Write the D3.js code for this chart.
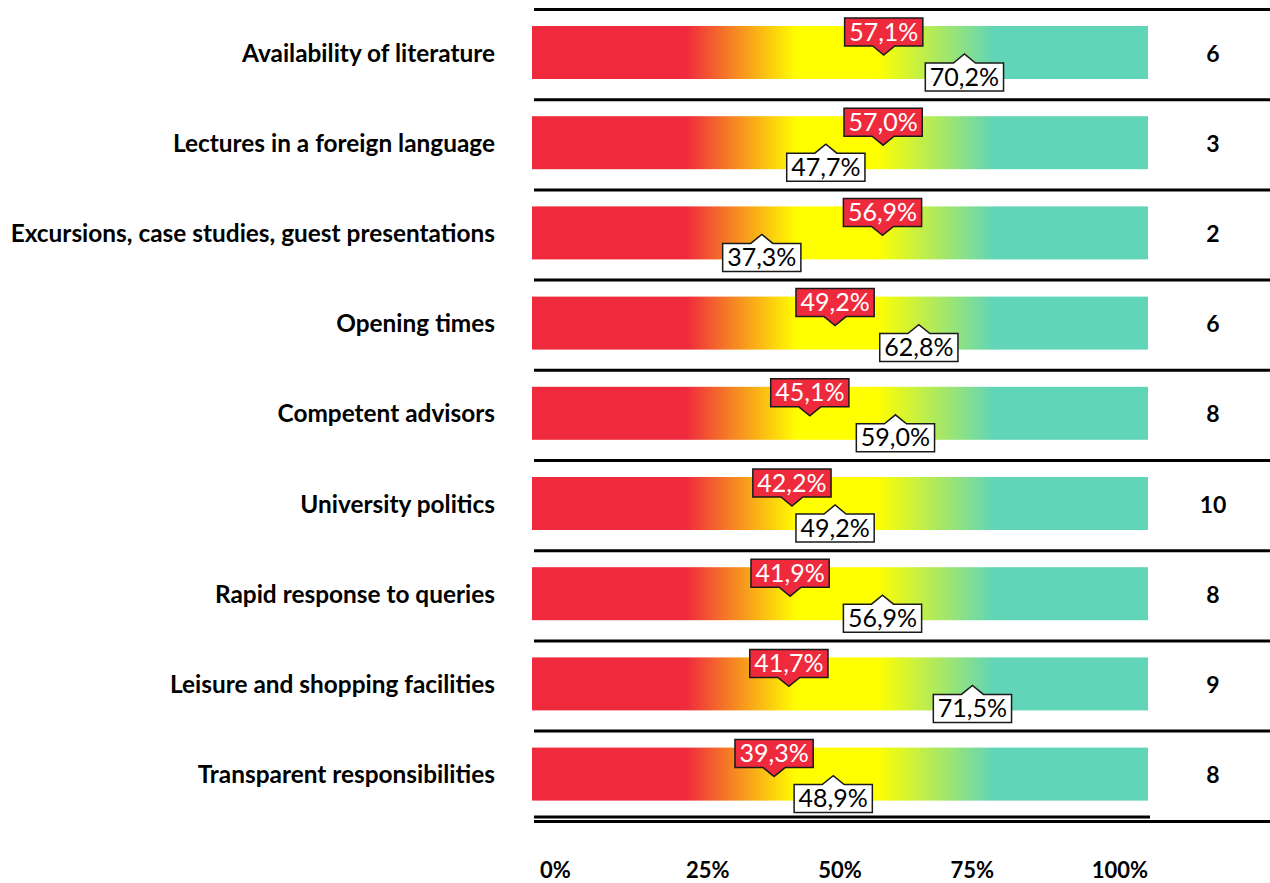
<!DOCTYPE html>
<html>
<head>
<meta charset="utf-8">
<script src="https://cdn.jsdelivr.net/npm/d3@7"></script>
<style>
  html, body { margin: 0; padding: 0; background: #fff; }
  svg { display: block; font-family: Lato, "Open Sans", sans-serif; }
</style>
</head>
<body>
<svg id="chart" width="1270" height="883"></svg>
<script>
'use strict';

// rows, top to bottom
let categories = [
  'Availability of literature',
  'Lectures in a foreign language',
  'Excursions, case studies, guest presentations',
  'Opening times',
  'Competent advisors',
  'University politics',
  'Rapid response to queries',
  'Leisure and shopping facilities',
  'Transparent responsibilities'
];
let redValues   = [57.1, 57.0, 56.9, 49.2, 45.1, 42.2, 41.9, 41.7, 39.3];
let whiteValues = [70.2, 47.7, 37.3, 62.8, 59.0, 49.2, 56.9, 71.5, 48.9];
let counts      = [6, 3, 2, 6, 8, 10, 8, 9, 8];
let tickValues  = [0, 25, 50, 75, 100];

let RED = '#EF2A3D', YELLOW = '#FFFF00', TEAL = '#60D5B8';

let locale = d3.formatLocale({ decimal: ',', thousands: '.', grouping: [3], currency: ['', '€'] });
let fmt = locale.format('.1f');

let svg = d3.select('#chart');

let x = d3.scaleLinear().domain([0, 100]).range([532, 1148]);
let y = d3.scaleBand().domain(categories).range([9.5, 821.3]).paddingInner(0).paddingOuter(0);

let barTop = 16.5, barH = 53;

// gradient shared by all bars
let grad = svg.append('defs').append('linearGradient')
  .attr('id', 'scaleGrad')
  .attr('gradientUnits', 'userSpaceOnUse')
  .attr('x1', x(0)).attr('x2', x(100)).attr('y1', 0).attr('y2', 0);
[[25, RED], [43, YELLOW], [56, YELLOW], [75, TEAL]].forEach(function(s){
  grad.append('stop').attr('offset', s[0] + '%').attr('stop-color', s[1]);
});

let rows = svg.selectAll('g.row')
  .data(categories.map(function(c, i){
    return { name: c, red: redValues[i], white: whiteValues[i], n: counts[i] };
  }))
  .enter().append('g')
  .attr('class', 'row')
  .attr('transform', function(d){ return 'translate(0,' + y(d.name) + ')'; });

// row separators
rows.append('line')
  .attr('x1', 534).attr('x2', 1270)
  .attr('y1', 0).attr('y2', 0)
  .attr('stroke', '#000').attr('stroke-width', 3);

rows.append('rect')
  .attr('x', x(0)).attr('width', x(100) - x(0))
  .attr('y', barTop).attr('height', barH)
  .attr('fill', 'url(#scaleGrad)');

rows.append('text')
  .attr('x', 495).attr('y', barTop + barH / 2 + 9)
  .attr('text-anchor', 'end')
  .attr('font-weight', 'bold').attr('font-size', 24.4)
  .text(function(d){ return d.name; });

rows.append('text')
  .attr('x', 1213).attr('y', barTop + barH / 2 + 9)
  .attr('text-anchor', 'middle')
  .attr('font-weight', 'bold').attr('font-size', 23)
  .text(function(d){ return d.n; });

function callout(sel, key, isRed){
  let g = sel.append('g').attr('class', 'callout-' + key);
  let path = g.append('path');
  let txt = g.append('text')
    .attr('font-size', 25)
    .attr('text-anchor', 'middle')
    .attr('fill', isRed ? '#fff' : '#000')
    .attr('x', function(d){ return x(d[key]); })
    .attr('y', isRed ? 31 : 76)
    .text(function(d){ return fmt(d[key]) + '%'; });

  path.attr('fill', isRed ? RED : '#fff')
    .attr('stroke', '#1a1a1a').attr('stroke-width', 1.5)
    .attr('d', function(d, i){
      let w = txt.nodes()[i].getComputedTextLength() + 9;
      let cx = x(d[key]), l = cx - w / 2, r = cx + w / 2;
      if(isRed){
        let t = 8.5, b = 36.5, tip = 45.5;
        return 'M' + l + ',' + t + 'H' + r + 'V' + b + 'H' + (cx + 11) +
          'L' + cx + ',' + tip + 'L' + (cx - 11) + ',' + b + 'H' + l + 'Z';
      }
      let t = 53.5, b = 81.5, tip = 44.5;
      return 'M' + l + ',' + t + 'H' + (cx - 11) + 'L' + cx + ',' + tip +
        'L' + (cx + 11) + ',' + t + 'H' + r + 'V' + b + 'H' + l + 'Z';
    });
}

callout(rows, 'red', true);
callout(rows, 'white', false);

// bottom double rule
svg.append('line')
  .attr('x1', 534).attr('x2', 1150).attr('y1', 817).attr('y2', 817)
  .attr('stroke', '#000').attr('stroke-width', 3);
svg.append('line')
  .attr('x1', 534).attr('x2', 1270).attr('y1', 821.5).attr('y2', 821.5)
  .attr('stroke', '#000').attr('stroke-width', 3);

// scale labels
svg.append('g').selectAll('text')
  .data(tickValues)
  .enter().append('text')
  .attr('x', function(d){ return d === 0 ? x(d) + 8 : x(d); })
  .attr('y', 878)
  .attr('font-weight', 'bold').attr('font-size', 22)
  .attr('text-anchor', function(d){ return d < 50 ? 'start' : (d === 50 ? 'middle' : 'end'); })
  .text(function(d){ return d + '%'; });
</script>
</body>
</html>
